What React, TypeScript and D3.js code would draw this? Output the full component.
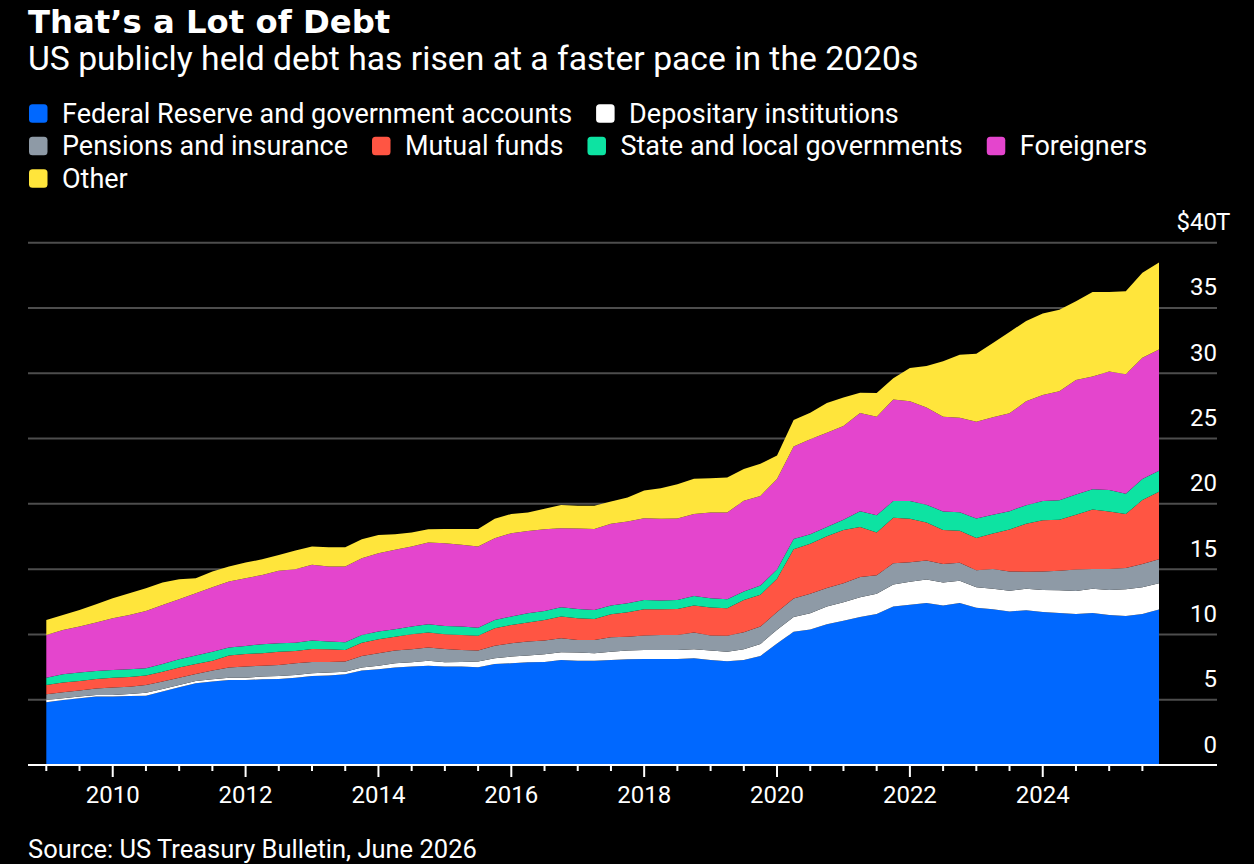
import React, { useEffect } from "react";
import * as d3 from "d3";

// ---- Data (US$ trillions, quarterly from 2009 Q1) ----
const startYear = 2009;

const fed = [4.80,4.98,5.11,5.24,5.24,5.29,5.31,5.62,5.95,6.26,6.39,6.51,6.51,6.56,6.59,6.69,6.82,6.85,6.95,7.23,7.33,7.46,7.54,7.61,7.54,7.54,7.48,7.74,7.79,7.87,7.89,8.05,7.99,7.99,8.05,8.10,8.12,8.12,8.12,8.17,8.05,7.94,8.05,8.35,9.30,10.20,10.37,10.77,11.05,11.34,11.56,12.13,12.27,12.41,12.22,12.41,12.05,11.93,11.76,11.85,11.71,11.65,11.56,11.65,11.48,11.42,11.56,11.90];
const depositary = [0.18,0.13,0.13,0.12,0.12,0.15,0.23,0.20,0.18,0.18,0.17,0.18,0.18,0.21,0.23,0.21,0.20,0.23,0.20,0.23,0.28,0.33,0.33,0.38,0.33,0.35,0.44,0.43,0.51,0.51,0.59,0.58,0.62,0.57,0.63,0.66,0.69,0.69,0.69,0.69,0.71,0.74,0.81,0.92,1.05,1.14,1.25,1.36,1.42,1.50,1.56,1.70,1.76,1.79,1.75,1.71,1.56,1.56,1.59,1.64,1.70,1.73,1.76,1.84,1.93,2.04,2.05,2.02];
const pensions = [0.44,0.46,0.46,0.49,0.57,0.56,0.59,0.57,0.56,0.53,0.67,0.77,0.85,0.84,0.84,0.89,0.87,0.81,0.77,0.89,0.95,0.97,0.99,1.00,1.02,0.92,0.84,0.97,1.02,1.07,1.05,1.08,0.97,1.02,1.10,1.07,1.10,1.15,1.15,1.28,1.15,1.21,1.31,1.33,1.36,1.42,1.50,1.42,1.45,1.56,1.42,1.62,1.50,1.47,1.42,1.36,1.30,1.53,1.47,1.31,1.41,1.50,1.65,1.53,1.61,1.62,1.78,1.84];
const mutualFunds = [0.71,0.74,0.74,0.74,0.76,0.74,0.72,0.76,0.77,0.77,0.76,0.92,0.97,0.95,1.02,0.95,1.00,0.97,0.89,1.02,1.07,1.07,1.15,1.15,1.12,1.15,1.13,1.33,1.41,1.46,1.58,1.66,1.66,1.61,1.77,1.87,2.02,1.97,1.99,2.07,2.15,2.12,2.47,2.43,2.55,3.77,3.83,3.97,4.08,3.83,3.26,3.48,3.32,2.90,2.61,2.46,2.47,2.70,3.21,3.68,3.92,3.91,4.19,4.54,4.40,4.14,4.90,5.16];
const stateLocal = [0.56,0.64,0.64,0.61,0.59,0.59,0.56,0.59,0.64,0.64,0.69,0.61,0.61,0.69,0.64,0.63,0.64,0.59,0.59,0.59,0.59,0.57,0.59,0.64,0.64,0.64,0.63,0.64,0.64,0.71,0.69,0.71,0.71,0.69,0.66,0.69,0.71,0.66,0.69,0.74,0.71,0.68,0.64,0.71,0.71,0.78,0.72,0.71,0.79,1.21,1.33,1.28,1.36,1.36,1.42,1.42,1.50,1.44,1.41,1.42,1.47,1.48,1.56,1.56,1.64,1.56,1.62,1.61];
const foreigners = [3.27,3.39,3.52,3.71,3.96,4.16,4.39,4.52,4.59,4.77,4.93,5.06,5.18,5.31,5.55,5.62,5.80,5.75,5.80,5.88,6.00,6.08,6.13,6.26,6.34,6.26,6.21,6.26,6.38,6.31,6.26,6.06,6.16,6.20,6.26,6.26,6.26,6.26,6.24,6.28,6.57,6.65,6.95,6.87,6.94,7.08,7.28,7.22,7.17,7.52,7.54,7.79,7.65,7.45,7.25,7.23,7.40,7.48,7.49,7.96,8.13,8.36,8.76,8.64,9.07,9.15,9.27,9.30];
const other = [1.15,1.15,1.28,1.40,1.53,1.66,1.74,1.71,1.54,1.15,1.20,1.15,1.20,1.20,1.22,1.43,1.40,1.48,1.48,1.45,1.40,1.20,1.07,1.02,1.09,1.22,1.35,1.48,1.48,1.41,1.56,1.78,1.74,1.77,1.71,1.84,2.12,2.35,2.63,2.69,2.63,2.68,2.43,2.46,1.79,2.04,2.02,2.27,2.19,1.55,1.82,1.62,2.55,3.18,4.25,4.82,5.21,5.67,6.23,6.15,6.24,6.23,6.04,6.46,6.09,6.35,6.52,6.66];

const seriesKeys = ["fed", "depositary", "pensions", "mutualFunds", "stateLocal", "foreigners", "other"];
const seriesValues = [fed, depositary, pensions, mutualFunds, stateLocal, foreigners, other];
const seriesNames = [
  "Federal Reserve and government accounts",
  "Depositary institutions",
  "Pensions and insurance",
  "Mutual funds",
  "State and local governments",
  "Foreigners",
  "Other",
];
const seriesColors = ["#0068ff", "#ffffff", "#8e9aa6", "#ff5543", "#0de3a2", "#e445cd", "#ffe53b"];

const yTickValues = [0, 5, 10, 15, 20, 25, 30, 35, 40];
const xLabelYears = [2010, 2012, 2014, 2016, 2018, 2020, 2022, 2024];

const TITLE = "That\u2019s a Lot of Debt";
const SUBTITLE = "US publicly held debt has risen at a faster pace in the 2020s";
const SOURCE = "Source: US Treasury Bulletin, June 2026";

const W = 1254;
const H = 864;
const FONT = "Roboto, 'Noto Sans', sans-serif";

function measure(text: string, font: string): number {
  const c = document.createElement("canvas").getContext("2d");
  if (!c) return text.length * 13;
  c.font = font;
  return c.measureText(text).width;
}

export default function App() {
  useEffect(() => {
    document.body.style.margin = "0";
    document.body.style.background = "#000";
  }, []);

  const n = fed.length;
  const dates = d3.range(n).map((i) => startYear + i / 4);
  const rows = dates.map((d, i) => {
    const r: any = { date: d };
    seriesKeys.forEach((k, j) => (r[k] = seriesValues[j][i]));
    return r;
  });

  const plotLeft = 28;
  const plotRight = 1217;
  const x = d3.scaleLinear().domain([startYear, dates[n - 1]]).range([46.3, 1159]);
  const y = d3.scaleLinear().domain([0, 40]).range([765, 242.7]);

  const stacked = d3.stack<any>().keys(seriesKeys)(rows);
  const area = d3
    .area<any>()
    .x((d) => x(d.data.date))
    .y0((d) => y(d[0]))
    .y1((d) => y(d[1]))
    .curve(d3.curveLinear);

  const halfYearTicks = d3.range(startYear * 2, dates[n - 1] * 2 + 0.01).map((v) => v / 2);

  // Legend flow layout
  const legendFontSize = 27;
  const legendFont = `${legendFontSize}px Roboto`;
  const sq = 18.5;
  const sqGap = 14.5;
  const itemGap = 24;
  const rowH = 32.5;
  const legendItems: { name: string; color: string; x: number; row: number }[] = [];
  let cx = plotLeft + 1;
  let row = 0;
  seriesNames.forEach((name, i) => {
    const w = sq + sqGap + measure(name, legendFont);
    if (cx + w > plotRight && cx > plotLeft + 1) {
      row += 1;
      cx = plotLeft + 1;
    }
    legendItems.push({ name, color: seriesColors[i], x: cx, row });
    cx += w + itemGap;
  });
  const legendBase = 122.7;
  const axisFontSize = 24;

  return (
    <svg width={W} height={H} style={{ display: "block", background: "#000" }}>
      <rect x={0} y={0} width={W} height={H} fill="#000" />
      <text x={28} y={32.5} fill="#fff" fontFamily="'DejaVu Sans', sans-serif" fontWeight="bold" fontSize={32.3}>
        {TITLE}
      </text>
      <text x={28} y={69.5} fill="#fff" fontFamily={FONT} fontSize={33.7}>
        {SUBTITLE}
      </text>

      {legendItems.map((it, i) => (
        <g key={i}>
          <rect
            x={it.x}
            y={legendBase + it.row * rowH - sq}
            width={sq}
            height={sq}
            rx={3.5}
            fill={it.color}
          />
          <text x={it.x + sq + sqGap} y={legendBase + it.row * rowH} fill="#fff" fontFamily={FONT} fontSize={legendFontSize}>
            {it.name}
          </text>
        </g>
      ))}

      {/* gridlines */}
      {yTickValues.slice(1).map((v) => (
        <line key={v} x1={plotLeft} x2={plotRight} y1={y(v)} y2={y(v)} stroke="#4d4d4d" strokeWidth={2} />
      ))}

      {/* stacked areas */}
      {stacked.map((s, i) => (
        <path key={seriesKeys[i]} d={area(s as any) || ""} fill={seriesColors[i]} />
      ))}

      {/* y labels: numbers right-aligned at the gridline end, unit suffix overhangs */}
      {yTickValues.map((v) => {
        const top = v === yTickValues[yTickValues.length - 1];
        return (
          <g key={v}>
            <text
              x={plotRight}
              y={y(v) - 12.5}
              fill="#fff"
              textAnchor="end"
              fontFamily={FONT}
              fontSize={axisFontSize}
            >
              {top ? `$${v}` : `${v}`}
            </text>
            {top && (
              <text x={plotRight - 1} y={y(v) - 12.5} fill="#fff" fontFamily={FONT} fontSize={axisFontSize}>
                T
              </text>
            )}
          </g>
        );
      })}

      {/* x axis */}
      <line x1={plotLeft} x2={plotRight} y1={y(0)} y2={y(0)} stroke="#fff" strokeWidth={2} />
      {halfYearTicks.map((t) => {
        const major = Number.isInteger(t) && t % 2 === 0;
        return (
          <line
            key={t}
            x1={x(t)}
            x2={x(t)}
            y1={y(0)}
            y2={y(0) + (major ? 12 : 6)}
            stroke="#fff"
            strokeWidth={2}
          />
        );
      })}
      {xLabelYears.map((yr) => (
        <text key={yr} x={x(yr)} y={803} fill="#fff" textAnchor="middle" fontFamily={FONT} fontSize={axisFontSize}>
          {yr}
        </text>
      ))}

      <text x={28} y={857.5} fill="#fff" fontFamily={FONT} fontSize={25.5}>
        {SOURCE}
      </text>
    </svg>
  );
}
